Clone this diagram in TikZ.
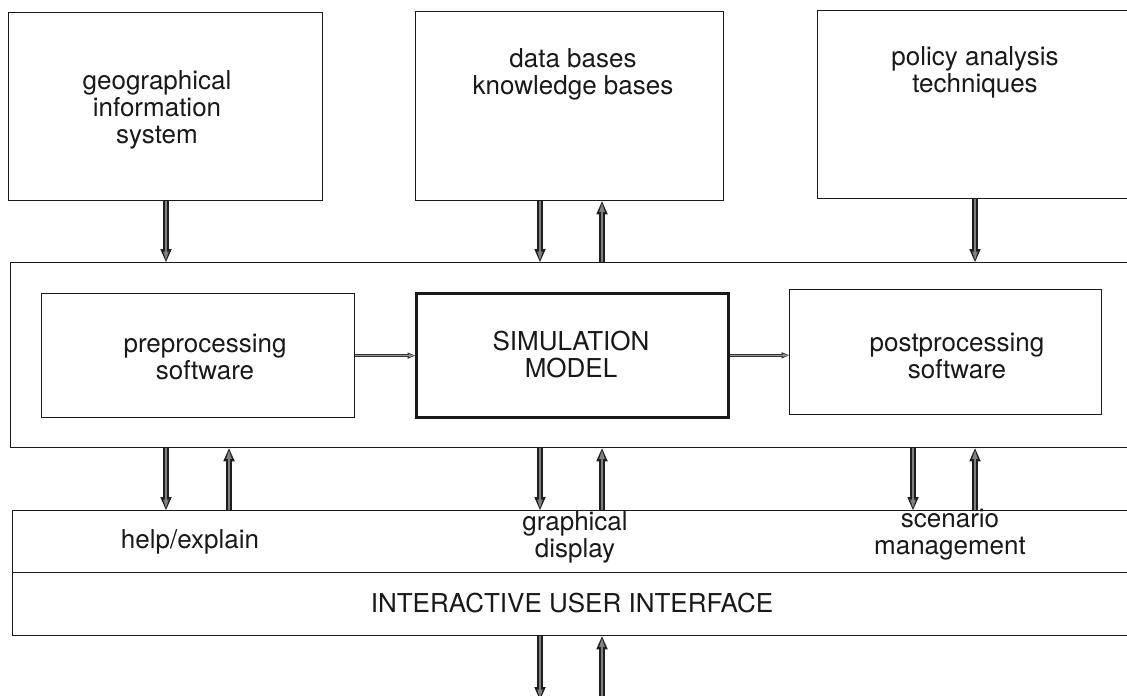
\documentclass[tikz,border=0pt]{standalone}
\usepackage{fontspec}
\setmainfont{TeX Gyre Heros}
\usetikzlibrary{arrows.meta}

\tikzset{
  box/.style={draw=black!90, line width=1.3pt, fill=white, anchor=north west,
              inner sep=0pt, minimum width=#1},
  boxh/.style={minimum height=#1},
  heavy/.style={line width=2.6pt},
  txt/.style={align=center, inner sep=0pt, text=black!90,
              font=\fontsize{26}{27}\selectfont},
  % broad two-tone arrow: dark rim, grey core
  fat/.style={draw=black!50, line width=2.4pt, shorten >=2pt,
              -{Triangle[length=8.5pt,width=5.6pt,line width=0pt]},
              preaction={draw=black!88, line width=5.6pt, shorten >=0pt,
              -{Triangle[length=13pt,width=11.5pt,line width=0pt]}}},
  % slim arrow between the processing blocks
  slim/.style={draw=black!40, line width=1.1pt, shorten >=1pt,
               -{Triangle[length=5pt,width=2.8pt,line width=0pt]},
               preaction={draw=black!80, line width=2.9pt, shorten >=0pt,
               -{Triangle[length=7.5pt,width=6.5pt,line width=0pt]}}}
}

\begin{document}
\begin{tikzpicture}[x=1pt, y=-1pt]
\clip (0,0) rectangle (1127,696);
\fill[white] (0,0) rectangle (1127,696);

% arrow columns
\coordinate (c1) at (166,0);
\coordinate (c2) at (229,0);
\coordinate (c3) at (540,0);
\coordinate (c4) at (602,0);
\coordinate (c5) at (913,0);
\coordinate (c6) at (975,0);
\coordinate (outend) at (0,700);

% top row of sources
\node[box=314pt, boxh=188pt] (gis)    at (8,12)  {};
\node[box=308pt, boxh=189pt] (data)   at (415,11) {};
\node[box=330pt, boxh=188pt] (policy) at (817,10) {};

\node[txt] (gisT)    at (157,110) {geographical\\information\\system};
\node[txt] (dataT)   at (573,74)  {data bases\\knowledge bases};
\node[txt] (policyT) at (975,72)  {policy analysis\\techniques};

% processing frame
\node[box=1140pt, boxh=185pt] (frame) at (10,262) {};
\node[box=313pt, boxh=124pt] (pre)  at (41,293)  {};
\node[box=312pt, boxh=124pt, heavy] (sim) at (415,292) {};
\node[box=312pt, boxh=125pt] (post) at (789,289) {};

\node[txt] (preT)  at (205,357) {preprocessing\\software};
\node[txt] (simT)  at (571,355) {SIMULATION\\MODEL};
\node[txt] (postT) at (957,356) {postprocessing\\software};

% user interface
\node[box=1140pt, boxh=62pt] (uitop) at (12,510) {};
\node[box=1140pt, boxh=63pt] (uibar) at (12,572) {};

\node[txt] (helpT)  at (190,542) {help/explain};
\node[txt] (graphT) at (575,537) {graphical\\display};
\node[txt] (scenT)  at (950,535) {scenario\\management};
\node[txt] (uiT)    at (572,603) {INTERACTIVE USER INTERFACE};

% sources into the frame
\draw[fat] (c1 |- gis.south) -- (c1 |- frame.north);
\draw[fat] (c3 |- data.south) -- (c3 |- frame.north);
\draw[fat] (c4 |- frame.north) -- (c4 |- data.south);
\draw[fat] (c6 |- policy.south) -- (c6 |- frame.north);

% processing chain
\draw[slim] (pre.east) -- (pre.east -| sim.west);
\draw[slim] (sim.east) -- (sim.east -| post.west);

% frame to interface
\draw[fat] (c1 |- frame.south) -- (c1 |- uitop.north);
\draw[fat] (c2 |- uitop.north) -- (c2 |- frame.south);
\draw[fat] (c3 |- frame.south) -- (c3 |- uitop.north);
\draw[fat] (c4 |- uitop.north) -- (c4 |- frame.south);
\draw[fat] (c5 |- frame.south) -- (c5 |- uitop.north);
\draw[fat] (c6 |- uitop.north) -- (c6 |- frame.south);

% interface to the user
\draw[fat] (c3 |- uibar.south) -- (c3 |- outend);
\draw[fat] (c4 |- outend) -- (c4 |- uibar.south);
\end{tikzpicture}
\end{document}
